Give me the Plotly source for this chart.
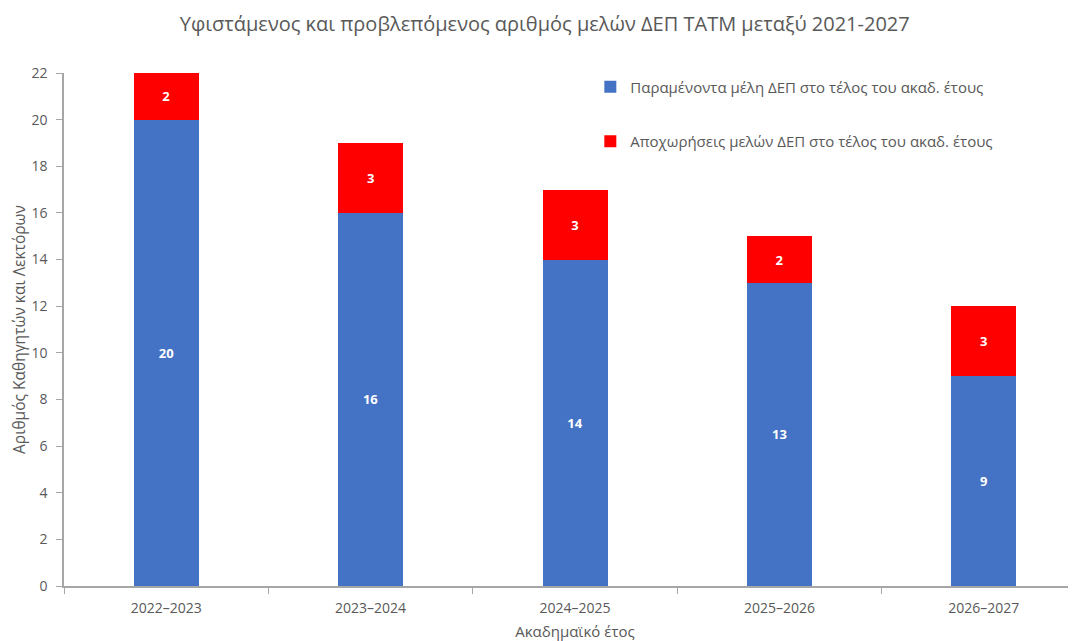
import plotly.graph_objects as go

years = ['2022–2023', '2023–2024', '2024–2025', '2025–2026', '2026–2027']
remaining = [20, 16, 14, 13, 9]
departures = [2, 3, 3, 2, 3]

blue = '#4472C4'
red = '#FF0000'
grey = '#595959'
font_family = 'Open Sans, Noto Sans, sans-serif'

fig = go.Figure()
fig.add_trace(go.Bar(x=years, y=remaining, name='Παραμένοντα μέλη ΔΕΠ στο τέλος του ακαδ. έτους',
                     marker_color=blue, marker_line_width=0, legendgroup='a',
                     text=remaining, textposition='inside', insidetextanchor='middle',
                     textfont=dict(color='white', size=13, family=font_family, weight='bold')))
fig.add_trace(go.Bar(x=years, y=departures, name='Αποχωρήσεις μελών ΔΕΠ στο τέλος του ακαδ. έτους',
                     marker_color=red, marker_line_width=0, legendgroup='b',
                     text=departures, textposition='inside', insidetextanchor='middle',
                     textfont=dict(color='white', size=13, family=font_family, weight='bold')))

# page body has an 8px margin; the plot area runs a little past the right edge, as in the original
fig.update_layout(
    barmode='stack',
    bargap=0.682,
    width=1080, height=633,
    margin=dict(l=56, r=2, t=65, b=55, autoexpand=False),
    paper_bgcolor='white', plot_bgcolor='white',
    font=dict(family=font_family, color=grey, size=13),
    title=dict(text='Υφιστάμενος και προβλεπόμενος αριθμός μελών ΔΕΠ ΤΑΤΜ μεταξύ 2021-2027',
               x=0.497, xanchor='center', y=0.975, yanchor='middle',
               font=dict(size=20, color=grey), automargin=False),
    legend=dict(x=0.515, y=1.005, xanchor='left', yanchor='top',
                traceorder='grouped', tracegroupgap=32,
                font=dict(size=15, color=grey), itemwidth=30,
                bgcolor='rgba(0,0,0,0)'),
    uniformtext=dict(minsize=12, mode='show'),
)
fig.update_xaxes(
    automargin=False,
    showline=True, linecolor='#A6A6A6', linewidth=1.5,
    ticks='outside', tickson='boundaries', ticklen=6, tickcolor='#A6A6A6',
    tickfont=dict(size=14, color=grey), ticklabelstandoff=8,
    title=dict(text='Ακαδημαϊκό έτος', font=dict(size=15, color=grey), standoff=12),
)
fig.update_yaxes(
    automargin=False,
    range=[0, 22], dtick=2, showgrid=False, zeroline=False,
    showline=True, linecolor='#A6A6A6', linewidth=1.5,
    ticks='outside', ticklen=6, tickcolor='#A6A6A6',
    tickfont=dict(size=14, color=grey), ticklabelstandoff=6,
    title=dict(text='Αριθμός Καθηγητών και Λεκτόρων', font=dict(size=15.5, color=grey), standoff=8),
)

fig.write_html('out.html')
